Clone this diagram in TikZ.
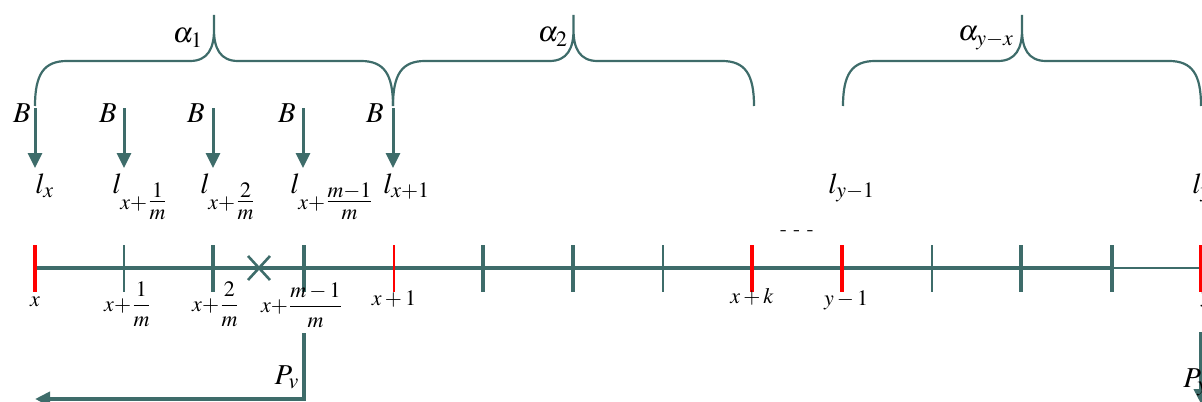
\documentclass[tikz,border=0pt]{standalone}
\usepackage{amsmath}
\usepackage{mathptmx}
\usetikzlibrary{arrows.meta}
\definecolor{lineteal}{RGB}{62,108,106}

\begin{document}
\begin{tikzpicture}[x=0.5pt, y=-0.5pt, axis/.style={draw=lineteal, line width=2pt}, bound/.style={draw=lineteal, line width=1.1pt}, drop/.style={draw=lineteal, -{Triangle[length=7.5pt, width=7pt]}, line width=1.5pt}, lab/.style={font=\Large, inner sep=1pt}, ticklab/.style={font=\fontsize{11}{13}\selectfont, inner sep=1pt}]

\useasboundingbox (0,0) rectangle (1202,401); \clip (0,0) rectangle (1202,401);
\foreach \a/\b in {35/393, 393/754, 843/1201} {\pgfmathsetmacro\m{(\a+\b)/2} \draw[bound] (\a,106) .. controls (\a,74) and (\a+9,61) .. (\a+32,61) -- (\m-24,61) .. controls (\m-6,61) and (\m,48) .. (\m,30) -- (\m,15) (\m,30) .. controls (\m,48) and (\m+6,61) .. (\m+24,61) -- (\b-32,61) .. controls (\b-9,61) and (\b,74) .. (\b,106);}
\node[lab] (al1) at (188,38) {$\alpha_1$}; \node[lab] (al2) at (553,37) {$\alpha_2$}; \node[lab] (aly) at (986,38) {$\alpha_{y-x}$};

\foreach \i/\t/\c in {1/35/22, 2/124/108, 3/213/196, 4/303/287, 5/393/375} {\coordinate (s\i) at (\t,108); \coordinate (e\i) at (\t,168); \node[lab] (B\i) at (\c,113) {$B$}; \draw[drop] (s\i) -- (e\i);}
\node[lab, anchor=base west] (l1) at (33,193) {$l_x$}; \node[lab, anchor=base west] (l2) at (110,193) {$l_{x+\genfrac{}{}{}{1}{1}{m}}$}; \node[lab, anchor=base west] (l3) at (198,193) {$l_{x+\genfrac{}{}{}{1}{2}{m}}$};
\node[lab, anchor=base west] (l4) at (288,193) {$l_{x+\genfrac{}{}{}{1}{m-1}{m}}$}; \node[lab, anchor=base west] (l5) at (381,193) {$l_{x+1}$}; \node[lab, anchor=base west] (l6) at (826,193) {$l_{y-1}$}; \node[lab, anchor=base west] (l7) at (1190,193) {$l_y$};

\draw[axis] (35,268) -- (1112,268); \draw[lineteal, line width=1pt] (1112,268) -- (1202,268);
\foreach \t/\w in {124/1, 213/2.2, 304/2.2, 483/2.2, 573/2.2, 663/1.4, 932/1, 1021/2.2, 1112/2.2} \draw[lineteal, line width=\w pt] (\t,245) -- (\t,292);
\foreach \t/\w in {35/2, 394/1, 752/2, 842/2, 1201/2} \draw[red, line width=\w pt] (\t,245) -- (\t,292);
\draw[lineteal, line width=1.3pt] (248,256) -- (270,280) (248,280) -- (270,256);
\node (dots) at (797,233) {- - -};

\node[ticklab] (t1) at (35,302) {$x$}; \node[ticklab] (t2) at (128,304) {$x{+}\dfrac{1}{m}$}; \node[ticklab] (t3) at (216,304) {$x{+}\dfrac{2}{m}$};
\node[ticklab] (t4) at (302,305) {$x{+}\dfrac{m-1}{m}$}; \node[ticklab] (t5) at (394,299) {$x+1$}; \node[ticklab] (t6) at (752,297) {$x+k$}; \node[ticklab] (t7) at (846,300) {$y-1$}; \node[ticklab] (t8) at (1206,300) {$y$};

\coordinate (pv0) at (304,333); \coordinate (pv1) at (304,399); \coordinate (pv2) at (35,399); \draw[drop, line width=2pt] (pv0) -- (pv1) -- (pv2);
\node[lab] (Pv) at (287,377) {$P_v$};
\coordinate (py0) at (1201,332); \coordinate (py1) at (1201,404); \draw[drop, line width=2pt] (py0) -- (py1);
\node[lab, anchor=base west] (Py) at (1181,387) {$P_y$};
\end{tikzpicture}
\end{document}
